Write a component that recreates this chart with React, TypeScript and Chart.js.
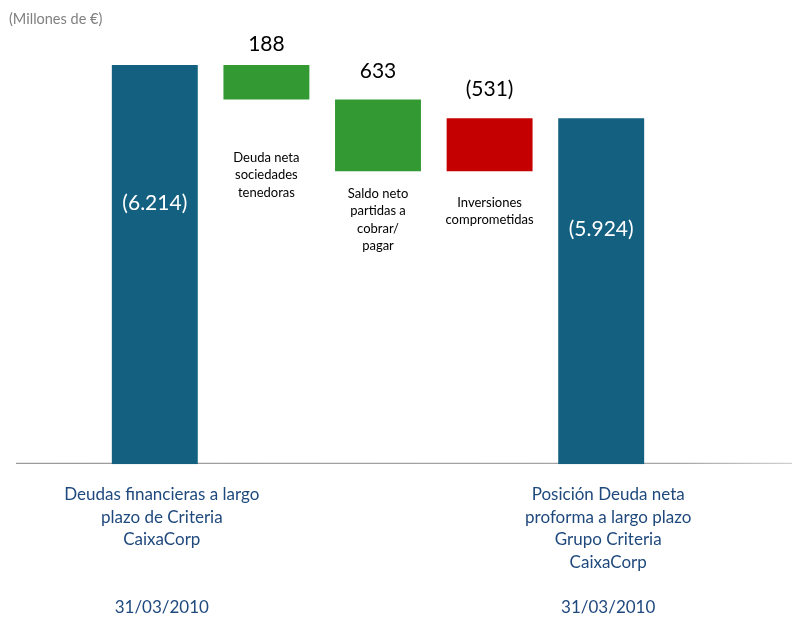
import React, { useEffect, useRef } from "react";
import { Chart, registerables } from "chart.js";

Chart.register(...registerables);

// ---- data ----
const categories = [
  "Deudas financieras a largo plazo de Criteria CaixaCorp",
  "Deuda neta sociedades tenedoras",
  "Saldo neto partidas a cobrar/pagar",
  "Inversiones comprometidas",
  "Posición Deuda neta proforma a largo plazo Grupo Criteria CaixaCorp",
];
// signed amounts shown on the chart (millones de €)
const amounts = [-6214, 188, 633, -531, -5924];
// floating bar extents as drawn in the picture (not to scale in the original)
const barLow = [4036, 6026, 5634, 5634, 4036];
const barHigh = [6214, 6214, 6026, 5924, 5924];
const barKinds = ["total", "up", "up", "down", "total"];
const tickLabels: (string | string[])[] = [
  ["Deudas financieras a largo", "plazo de Criteria", "CaixaCorp", "", "", "31/03/2010"],
  "",
  "",
  "",
  ["Posición Deuda neta", "proforma a largo plazo", "Grupo Criteria", "CaixaCorp", "", "31/03/2010"],
];
const notes: (string[] | null)[] = [
  null,
  ["Deuda neta", "sociedades", "tenedoras"],
  ["Saldo neto", "partidas a", "cobrar/", "pagar"],
  ["Inversiones", "comprometidas"],
  null,
];
const unitLabel = "(Millones de €)";
const yMin = 4036;
const yMax = 6214;

// ---- styles ----
const FONT = "Lato, 'Liberation Sans', sans-serif";
const kindColors: Record<string, string> = {
  total: "#136080",
  up: "#339933",
  down: "#C50000",
};
const styleCfg = {
  aboveOffset: [0, 21, 28, 29, 0],
  insideOffset: [138, 0, 0, 0, 111],
  noteOffset: [0, 58, 22, 31, 0],
};

function fmt(v: number): string {
  const s = Math.abs(v).toLocaleString("de-DE");
  return v < 0 ? `(${s})` : s;
}

const decorPlugin = {
  id: "wfDecor",
  beforeDatasetsDraw(chart: any) {
    const ctx = chart.ctx;
    const yPix = chart.scales.y.getPixelForValue(yMin) - 1;
    ctx.save();
    const grad = ctx.createLinearGradient(16, 0, chart.width, 0);
    grad.addColorStop(0, "#9a9a9a");
    grad.addColorStop(0.85, "#a6a6a6");
    grad.addColorStop(1, "#d0d0d0");
    ctx.strokeStyle = grad;
    ctx.lineWidth = 1.2;
    ctx.beginPath();
    ctx.moveTo(16, yPix);
    ctx.lineTo(chart.width, yPix);
    ctx.stroke();
    ctx.restore();
  },
  afterDatasetsDraw(chart: any) {
    const ctx = chart.ctx;
    const meta = chart.getDatasetMeta(0);
    ctx.save();
    ctx.textAlign = "center";
    ctx.textBaseline = "middle";
    meta.data.forEach((bar: any, i: number) => {
      const p = bar.getProps(["x", "y", "base"], true);
      const top = Math.min(p.y, p.base);
      const bottom = Math.max(p.y, p.base);
      const label = fmt(amounts[i]);
      if (barKinds[i] === "total") {
        ctx.fillStyle = "#ffffff";
        ctx.font = `21px ${FONT}`;
        ctx.fillText(label, p.x, top + styleCfg.insideOffset[i]);
      } else {
        ctx.fillStyle = "#000000";
        ctx.font = `21px ${FONT}`;
        ctx.fillText(label, p.x, top - styleCfg.aboveOffset[i]);
        const n = notes[i];
        if (n) {
          ctx.font = `13px ${FONT}`;
          n.forEach((line, k) => {
            ctx.fillText(line, p.x, bottom + styleCfg.noteOffset[i] + k * 17.5);
          });
        }
      }
    });
    ctx.fillStyle = "#808080";
    ctx.font = `14.5px ${FONT}`;
    ctx.textAlign = "left";
    ctx.fillText(unitLabel, 9, 19);
    ctx.restore();
  },
};

export default function App() {
  const ref = useRef<HTMLCanvasElement | null>(null);
  useEffect(() => {
    document.body.style.margin = "0";
    if (!ref.current) return;
    const chart = new Chart(ref.current, {
      type: "bar",
      data: {
        labels: categories,
        datasets: [
          {
            data: barLow.map((lo, i) => [lo, barHigh[i]]) as any,
            backgroundColor: barKinds.map((k) => kindColors[k]),
            borderWidth: 0,
            categoryPercentage: 1,
            barPercentage: 0.77,
          },
        ],
      },
      options: {
        responsive: false,
        animation: false,
        devicePixelRatio: 1,
        layout: { padding: { top: 65, left: 99, right: 135, bottom: -20 } },
        plugins: {
          legend: { display: false },
          tooltip: { enabled: false },
        },
        scales: {
          x: {
            grid: { display: false, drawTicks: false },
            border: { display: false },
            ticks: {
              autoSkip: false,
              maxRotation: 0,
              minRotation: 0,
              padding: 19,
              labelOffset: 7,
              color: "#1F497D",
              font: { family: FONT, size: 17, lineHeight: 1.33 },
              callback: (_v: any, i: number) => tickLabels[i],
            },
          },
          y: {
            display: false,
            min: yMin,
            max: yMax,
          },
        },
      },
      plugins: [decorPlugin],
    });
    return () => chart.destroy();
  }, []);
  return (
    <div style={{ width: 792, height: 618, position: "relative" }}>
      <canvas ref={ref} width={792} height={618} />
    </div>
  );
}
